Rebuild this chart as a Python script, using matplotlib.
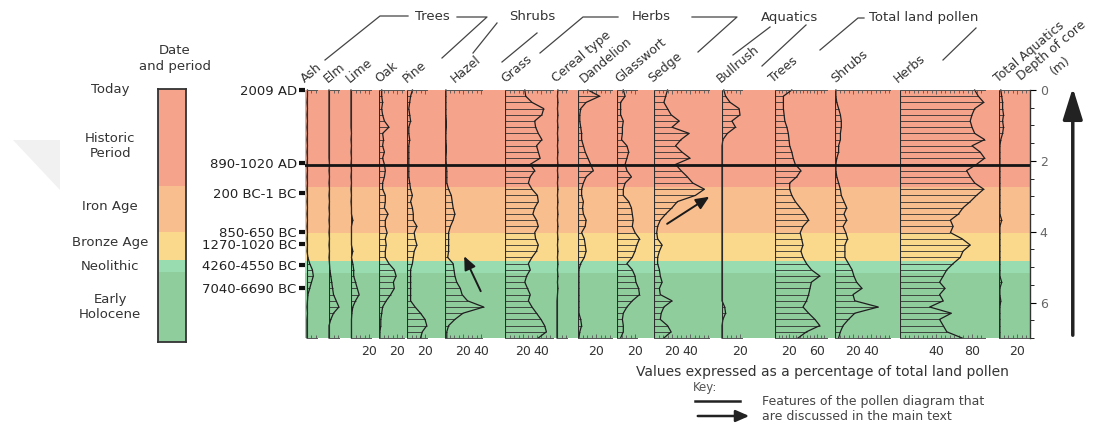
import matplotlib
matplotlib.use("Agg")
import matplotlib.pyplot as plt
from matplotlib.lines import Line2D
from matplotlib.patches import Polygon, FancyArrowPatch
from matplotlib.ticker import MultipleLocator

plt.rcParams['font.family'] = ['DejaVu Sans']

# ---- data: pollen percentages per sample depth (m) ----
depth = [0.0, 0.175, 0.35, 0.525, 0.7, 0.875, 1.05, 1.225, 1.4, 1.575,
         1.75, 1.925, 2.1, 2.275, 2.45, 2.625, 2.8, 2.975, 3.15, 3.325,
         3.5, 3.675, 3.85, 4.025, 4.2, 4.375, 4.55, 4.725, 4.9, 5.075,
         5.25, 5.425, 5.6, 5.775, 5.95, 6.125, 6.3, 6.475, 6.65, 6.825,
         7.0]

ash = [0.5, 0.5, 0, 0.5, 0, 0.5, 0, 0.5, 0, 0.5,
       0, 0.5, 0, 0.5, 0, 0.5, 0, 0.5, 0, 0.5,
       0, 0.5, 0, 0.5, 0, 0.5, 0, 1, 3, 6,
       7, 5, 3, 1, 0.5, 0, 0.5, 0, 0, 0,
       0]
elm = [0, 0, 0, 0, 0, 0, 0, 0, 0, 0,
       0, 0, 0.5, 0, 0.5, 0, 0.5, 0, 0.5, 0,
       0.5, 0, 0.5, 0, 0.5, 0, 0.5, 0, 0.5, 1,
       2, 3, 4, 5, 8, 11, 5, 2, 0, 0,
       0]
lime = [0, 0, 0, 0, 0, 0, 0, 0.5, 0, 0.5,
        0, 0.5, 0, 0.5, 0, 0.5, 0, 0.5, 0, 0.5,
        0.5, 2, 0.5, 0.5, 0.5, 0.5, 2, 0.5, 2, 3,
        3, 5, 7, 9, 5, 2, 1, 0.5, 0.5, 0.5,
        0.5]
oak = [3, 3, 4, 3, 4, 6, 11, 4, 5, 4,
       6, 4, 6, 7, 6, 4, 4, 7, 7, 6,
       10, 7, 7, 9, 7, 8, 7, 7, 11, 17,
       19, 16, 17, 13, 8, 4, 3, 2, 2, 1,
       1]
pine = [6, 4, 3, 2, 3, 4, 2, 2, 3, 2,
        2, 2, 2, 2, 2, 3, 4, 6, 4, 6,
        7, 7, 11, 8, 9, 11, 8, 7, 6, 4,
        4, 4, 4, 4, 4, 9, 15, 20, 22, 17,
        15]
hazel = [1, 1, 1, 1, 1, 1.5, 1.5, 1, 1, 1.5,
         1.5, 1, 1.5, 2, 2, 2, 4, 7, 8, 9,
         11, 9, 6, 4, 4, 4, 4, 3, 9, 10,
         11, 13, 17, 19, 25, 43, 20, 11, 4, 2,
         2]
grass = [22, 23, 30, 43, 41, 33, 34, 37, 41, 35,
         37, 39, 28, 33, 28, 26, 30, 36, 37, 33,
         31, 35, 37, 33, 34, 37, 35, 30, 26, 28,
         24, 22, 25, 28, 26, 30, 35, 40, 44, 46,
         37]
cereal = [1, 0.5, 1, 0.5, 1, 0.5, 1, 0.5, 1, 0.5,
          1, 0.5, 1, 0.5, 1, 0.5, 1, 0.5, 1, 0.5,
          1, 0.5, 1, 0.5, 1, 0.5, 1, 0.5, 1, 0.5,
          1, 0.5, 1, 0.5, 0, 0, 0, 0, 0, 0,
          0]
dandelion = [11, 24, 9, 3, 2, 2, 3, 4, 4, 6,
             8, 11, 14, 17, 9, 6, 4, 4, 6, 5,
             6, 9, 8, 4, 7, 8, 9, 7, 3, 1,
             1, 1, 1, 1, 1, 1, 1, 3, 4, 2,
             1]
glasswort = [7, 9, 4, 4, 4, 7, 6, 6, 5, 11,
             13, 11, 9, 11, 16, 9, 7, 7, 13, 16,
             17, 18, 17, 20, 25, 22, 20, 17, 11, 17,
             20, 21, 24, 25, 17, 11, 7, 6, 7, 7,
             4]
sedge = [15, 13, 11, 15, 19, 28, 20, 39, 30, 24,
         31, 40, 24, 30, 37, 43, 56, 46, 26, 20,
         13, 7, 4, 3, 4, 9, 6, 4, 4, 6,
         7, 9, 6, 7, 20, 11, 8, 7, 15, 19,
         11]
bullrush = [2, 4, 9, 19, 20, 11, 15, 6, 1, 0,
            0, 0, 0, 0, 0, 0, 0, 0, 0, 0,
            0, 0, 0, 0, 0, 0, 0, 0, 0, 0,
            0, 0, 0, 0, 0, 3, 4, 1, 0, 0,
            0]
trees = [24, 12, 12, 12, 13, 14, 17, 19, 20, 21,
         24, 26, 29, 37, 31, 21, 21, 24, 29, 36,
         43, 48, 40, 36, 38, 40, 37, 40, 45, 52,
         64, 52, 50, 48, 45, 40, 48, 57, 64, 45,
         33]
shrubs = [1, 1, 2, 4, 6, 7, 7, 6, 6, 4,
          4, 2, 1, 1, 2, 4, 6, 7, 10, 13,
          10, 13, 9, 12, 14, 11, 11, 11, 15, 19,
          21, 24, 30, 20, 22, 48, 22, 15, 9, 6,
          4]
herbs = [83, 87, 93, 83, 80, 78, 80, 83, 94, 80,
         89, 94, 85, 74, 78, 83, 93, 85, 78, 70,
         65, 56, 59, 56, 69, 78, 70, 67, 59, 52,
         48, 44, 50, 44, 48, 33, 57, 44, 48, 52,
         69]
aquatics = [2, 3, 4, 4, 5, 4, 5, 4, 2, 1,
            1, 1, 1, 1, 1, 1, 1, 1, 1, 1,
            1, 3, 1, 1, 1, 1, 1, 1, 1, 1,
            1, 3, 1, 1, 2, 1, 1, 1, 1, 1,
            1]

taxa = ['Ash', 'Elm', 'Lime', 'Oak', 'Pine', 'Hazel', 'Grass', 'Cereal type',
        'Dandelion', 'Glasswort', 'Sedge', 'Bullrush', 'Trees', 'Shrubs',
        'Herbs', 'Total Aquatics']
series = [ash, elm, lime, oak, pine, hazel, grass, cereal, dandelion,
          glasswort, sedge, bullrush, trees, shrubs, herbs, aquatics]
ticks = [[], [], [20], [20], [20], [20, 40], [20, 40], [], [20], [20],
         [20, 40], [20], [20, 60], [20, 40], [40, 80], [20]]

groups = ['Trees', 'Shrubs', 'Herbs', 'Aquatics', 'Total land pollen']

date_labels = ['2009 AD', '890-1020 AD', '200 BC-1 BC', '850-650 BC',
               '1270-1020 BC', '4260-4550 BC', '7040-6690 BC']
date_depth = [0.0, 2.07, 2.92, 4.0, 4.35, 4.95, 5.6]

periods = ['Today', 'Historic\nPeriod', 'Iron Age', 'Bronze Age',
           'Neolithic', 'Early\nHolocene']
period_depth = [0.0, 1.62, 3.31, 4.33, 5.01, 6.15]

band_edges = [0, 2.75, 4.05, 4.82, 5.16, 7.2]
boundary_depth = 2.12

# ---- layout (pixels of the 1115x441 picture) ----
W, H = 1115, 441
TOP, BOT = 90, 338
band_colors = ['#f5a38b', '#f8be8e', '#fad98c', '#98dcb0', '#8fcd9d']
# column: baseline x, ruler length, px per percent, label shift
col_x = [307, 329, 351, 379, 407, 445, 505, 557, 578, 617, 654, 722, 775, 835, 900, 999]
col_len = [10, 10, 20, 25, 20, 37, 48, 10, 34, 20, 55, 20, 52, 55, 85, 30]
col_k = [0.9] * 12 + [0.7, 0.9, 0.9, 0.9]
col_dx = [0, 1, 1, 2, 2, 12, 2, 1, 8, 4, 0, 1, 0, 2, 0, 1]

fig = plt.figure(figsize=(W / 100, H / 100), dpi=100)


def rect(x0, y0, x1, y1):
    return [x0 / W, 1 - y1 / H, (x1 - x0) / W, (y1 - y0) / H]


def pt(x, y):
    return (x / W, 1 - y / H)


# faint watermark shape at the left
fig.add_artist(Polygon([pt(13, 140), pt(60, 140), pt(60, 190)], closed=True,
                       transform=fig.transFigure, color='#f1f1f1', lw=0, zorder=-5))

# background bands + date labels
bg = fig.add_axes(rect(305, TOP, 1030, BOT))
bg.set_xlim(0, 1)
bg.set_ylim(7.0, 0)
for a, b, c in zip(band_edges[:-1], band_edges[1:], band_colors):
    bg.axhspan(a, b, color=c, lw=0)
bg.set_xticks([])
for s in bg.spines.values():
    s.set_visible(False)
bg.set_yticks(date_depth, date_labels)
bg.tick_params(axis='y', length=4, width=3, color='#111', pad=2,
               labelsize=9.5, labelcolor='#222')

# pollen columns
for name, vals, x0, rl, k, dx, tk in zip(taxa, series, col_x, col_len, col_k, col_dx, ticks):
    ax = fig.add_axes(rect(x0, TOP, x0 + rl, BOT))
    ax.patch.set_visible(False)
    ax.set_xlim(0, rl / k)
    ax.set_ylim(7.0, 0)
    ax.hlines(depth, 0, vals, colors='#303030', lw=0.6, clip_on=False)
    ax.plot(vals, depth, color='#1e1e1e', lw=0.9, clip_on=False)
    ax.axvline(0, color='#2b2b2b', lw=0.8)
    ax.set_yticks([])
    ax.set_xticks(tk)
    ax.xaxis.set_minor_locator(MultipleLocator(5))
    ax.tick_params(axis='x', which='both', top=True, bottom=True, direction='in',
                   color='#555', width=0.6)
    ax.tick_params(axis='x', which='major', length=3, labelsize=9,
                   labelcolor='#333', pad=5)
    ax.tick_params(axis='x', which='minor', length=2)
    for s in ['left', 'right']:
        ax.spines[s].set_visible(False)
    for s in ['top', 'bottom']:
        ax.spines[s].set_linewidth(0.7)
        ax.spines[s].set_color('#555')
    ax.annotate(name, xy=(0, 1), xycoords='axes fraction', xytext=(dx, 5),
                textcoords='offset pixels', rotation=40, rotation_mode='anchor',
                ha='left', va='bottom', fontsize=9, color='#333')
    if name == 'Hazel':
        ax.annotate('', xy=(20, 4.62), xytext=(41, 5.75),
                    arrowprops=dict(arrowstyle='-|>,head_length=0.8,head_width=0.35',
                                    mutation_scale=10, lw=1.4, color='#1a1a1a'),
                    annotation_clip=False)
    if name == 'Sedge':
        ax.annotate('', xy=(64, 2.97), xytext=(12, 3.82),
                    arrowprops=dict(arrowstyle='-|>,head_length=0.8,head_width=0.35',
                                    mutation_scale=10, lw=1.4, color='#1a1a1a'),
                    annotation_clip=False)

# depth axis, boundary line, direction arrow
tw = bg.twinx()
tw.set_ylim(7.0, 0)
tw.set_yticks([0, 2, 4, 6])
tw.yaxis.set_minor_locator(MultipleLocator(0.5))
for s in ['top', 'bottom', 'left']:
    tw.spines[s].set_visible(False)
tw.spines['right'].set_linewidth(1)
tw.spines['right'].set_color('#333')
tw.tick_params(axis='y', which='major', length=4, labelsize=9, labelcolor='#666', pad=3)
tw.tick_params(axis='y', which='minor', length=3)
tw.axhline(boundary_depth, color='#151515', lw=2)
tw.annotate('', xy=(1.059, -0.14), xytext=(1.059, 7.0),
            xycoords=('axes fraction', 'data'),
            arrowprops=dict(arrowstyle='-|>,head_length=1.6,head_width=0.5',
                            mutation_scale=12, lw=2.5, color='#222'),
            annotation_clip=False)
fig.text(*pt(1023, 83), 'Depth of core', rotation=40, rotation_mode='anchor',
         ha='left', va='bottom', fontsize=9, color='#333')
fig.text(*pt(1060, 66), '(m)', rotation=40, rotation_mode='anchor',
         ha='center', va='center', fontsize=9, color='#333')

# period bar
pb = fig.add_axes(rect(158, 89, 186, 342))
pb.set_xlim(0, 1)
pb.set_ylim(7.15, 0)
for a, b, c in zip(band_edges[:-1], band_edges[1:], band_colors):
    pb.axhspan(a, b, color=c, lw=0)
pb.set_xticks([])
pb.set_yticks([])
for s in pb.spines.values():
    s.set_linewidth(1.3)
    s.set_color('#333')
for lab, d in zip(periods, period_depth):
    pb.text(-1.71, d, lab, transform=pb.get_yaxis_transform(), ha='center',
            va='center', fontsize=9.5, color='#333')
pb.text(0.6, 1.12, 'Date\nand period', transform=pb.transAxes, ha='center',
        va='center', fontsize=9.5, color='#333', linespacing=1.35)

# group headings with bracket lines
group_pos = [(432, 16), (532, 16), (651, 17), (790, 17), (924, 17)]
for g, (gx, gy) in zip(groups, group_pos):
    fig.text(*pt(gx, gy), g, ha='center', va='center', fontsize=9.5, color='#333')
brackets = [
    [(325, 60), (380, 16), (408, 16)], [(457, 17), (487, 17), (442, 58)],
    [(497, 23), (473, 53)], [(537, 33), (502, 62)],
    [(540, 53), (583, 17), (618, 17)], [(692, 17), (737, 17), (698, 52)],
    [(770, 27), (733, 55)], [(806, 25), (762, 66)],
    [(820, 50), (858, 18), (864, 18)], [(976, 28), (943, 60)],
]
for br in brackets:
    xs = [p[0] / W for p in br]
    ys = [1 - p[1] / H for p in br]
    fig.add_artist(Line2D(xs, ys, transform=fig.transFigure, color='#444', lw=0.9))

# caption and key
fig.text(*pt(822, 372), 'Values expressed as a percentage of total land pollen',
         ha='center', va='center', fontsize=10, color='#333')
fig.text(*pt(693, 387), 'Key:', ha='left', va='center', fontsize=8.5, color='#555')
fig.add_artist(Line2D([695 / W, 740 / W], [1 - 401 / H, 1 - 401 / H],
                      transform=fig.transFigure, color='#222', lw=1.8))
fig.add_artist(FancyArrowPatch(
    pt(695, 416), pt(752, 416), transform=fig.transFigure,
    arrowstyle='-|>,head_length=0.8,head_width=0.35', mutation_scale=10,
    lw=1.8, color='#222'))
fig.text(*pt(762, 401), 'Features of the pollen diagram that', ha='left',
         va='center', fontsize=9, color='#444')
fig.text(*pt(762, 416), 'are discussed in the main text', ha='left',
         va='center', fontsize=9, color='#444')

fig.savefig('out.png', dpi=100, facecolor='white')
